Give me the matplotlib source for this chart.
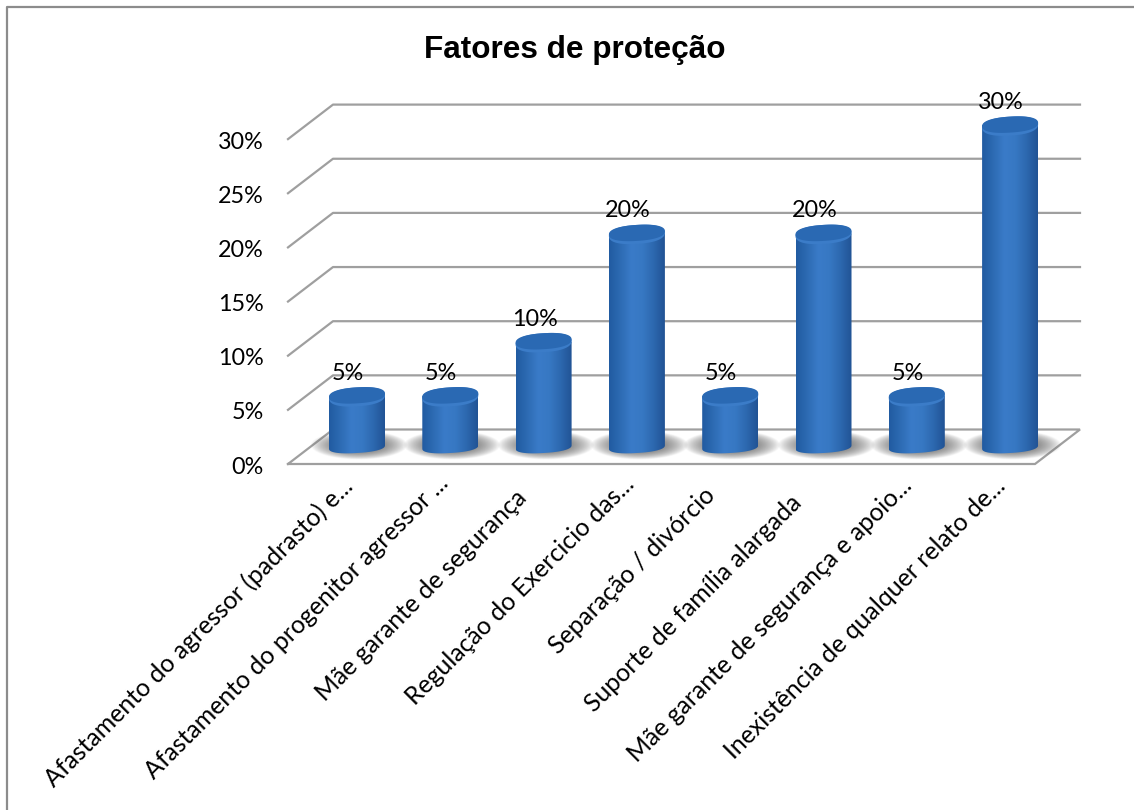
import numpy as np
import matplotlib
matplotlib.use("Agg")
import matplotlib.pyplot as plt
from matplotlib.lines import Line2D
from matplotlib.patches import Polygon
from matplotlib.colors import LinearSegmentedColormap

categories = ["Afastamento do agressor (padrasto) e...",
              "Afastamento do progenitor agressor ...",
              "Mãe garante de segurança",
              "Regulação do Exercicio das...",
              "Separação / divórcio",
              "Suporte de família alargada",
              "Mãe garante de segurança e apoio...",
              "Inexistência de qualquer relato de..."]
values = [5, 5, 10, 20, 5, 20, 5, 30]
y_ticks = [0, 5, 10, 15, 20, 25, 30]
# how far each rotated label slides back along its own direction, in pixels
label_slide = [0, -3, 12, -2, 10, 17, 0, 0]

W, H = 1134, 810
PX_X = 93.3   # pixels per category
PX_Y = 10.83  # pixels per percent
x0_px, y0_px = 357, 464


def ellipse_pts(cx, cy, ry_px, start=0.0, stop=2 * np.pi):
    # tilted rounded ellipse, sizes given in pixels and turned into data units
    th = np.linspace(start, stop, 80)
    c, s = np.cos(th), np.sin(th)
    px = 28 * np.sign(c) * np.abs(c) ** 0.85
    py = ry_px * np.sign(s) * np.abs(s) ** 0.85 + px * 0.06
    return np.column_stack([cx + px / PX_X, cy + py / PX_Y])


plt.rcParams["font.family"] = ["Lato", "DejaVu Sans"]
fig = plt.figure(figsize=(W / 100, H / 100), dpi=100)
ax = fig.add_axes([0, 0, 1, 1])
xlim = (-x0_px / PX_X, (W - x0_px) / PX_X)
ylim = ((y0_px - H) / PX_Y, y0_px / PX_Y)

# chart depth in data units
dx = 45 / PX_X
dy = 34.5 / PX_Y
half_w = 28 / PX_X
base = 14 / PX_Y
left = -69 / PX_X
right = left + 747 / PX_X
grey = "#9f9f9f"
lw = 1.6

# floor and walls
ax.plot([left, right, right + dx, left + dx, left],
        [0, 0, dy, dy, 0], color=grey, lw=lw, solid_joinstyle="miter")
for t in y_ticks[1:]:
    ax.plot([left, left + dx, right + dx], [t, t + dy, t + dy], color=grey, lw=lw)
for t in y_ticks:
    ax.text(left - 24 / PX_X, t - 3 / PX_Y, f"{t}%", ha="right", va="center", fontsize=16.8, color="black")

side_cmap = LinearSegmentedColormap.from_list(
    "side", ["#215ba1", "#2d6bb3", "#3a7bc8", "#3778c3", "#2c68af", "#215395"])
xx, yy = np.meshgrid(np.linspace(-2, 2, 160), np.linspace(-2, 2, 80))
shadow = np.clip(1 - (xx ** 2 + yy ** 2) / 3.8, 0, 1) ** 0.9
shadow_cmap = LinearSegmentedColormap.from_list("shadow", [(0.4, 0.4, 0.4, 0), (0.4, 0.4, 0.4, 0.95)])
grad = np.linspace(0, 1, 128).reshape(1, -1)

for i, v in enumerate(values):
    # floor shadow
    ax.imshow(shadow, cmap=shadow_cmap, aspect="auto", zorder=2, interpolation="bilinear",
              extent=(i - 48 / PX_X, i + 52 / PX_X, base - 10 / PX_Y, base + 20 / PX_Y))
    top = v + base
    # cylinder body: straight sides, curved bottom
    bottom = ellipse_pts(i, base + 3 / PX_Y, 6, np.pi, 2 * np.pi)
    verts = np.vstack([[[i - half_w, top]], bottom, [[i + half_w, top]]])
    body = Polygon(verts, closed=True, fc="none", ec="none", zorder=3)
    ax.add_patch(body)
    im = ax.imshow(grad, cmap=side_cmap, aspect="auto", zorder=3,
                   extent=(i - half_w, i + half_w, base - 8 / PX_Y, top))
    im.set_clip_path(body)
    # top cap, lighter rim under it
    ax.add_patch(Polygon(ellipse_pts(i, top - 1 / PX_Y, 9.5), closed=True, fc="#3b7cc8", ec="none", zorder=4))
    ax.add_patch(Polygon(ellipse_pts(i, top + 0.5 / PX_Y, 8), closed=True, fc="#2a69b3", ec="none", zorder=5))
    ax.text(i - 9 / PX_X, top + 22.5 / PX_Y, f"{v}%", ha="center", va="center", fontsize=16.8, color="black", zorder=6)
    # category label
    s = label_slide[i] * 0.72
    ax.annotate(categories[i], (i, 0), xytext=(-12 - s, -7 - s), textcoords="offset points",
                rotation=45, rotation_mode="anchor", ha="right", va="top", fontsize=17.9, color="black")

ax.text((575 - x0_px) / PX_X, (y0_px - 50) / PX_Y, "Fatores de proteção", ha="center", va="center",
        fontsize=22.7, fontweight="bold", family="Liberation Sans", color="black")

ax.set_xlim(xlim)
ax.set_ylim(ylim)
ax.axis("off")
# chart frame, only top and left are inside the picture
frame_x = [7 / W, 7 / W, 1]
frame_y = [0, 1 - 7 / H, 1 - 7 / H]
fig.add_artist(Line2D(frame_x, frame_y, transform=fig.transFigure, color="#8c8c8c", lw=1.6))
fig.savefig("out.png", dpi=100)
